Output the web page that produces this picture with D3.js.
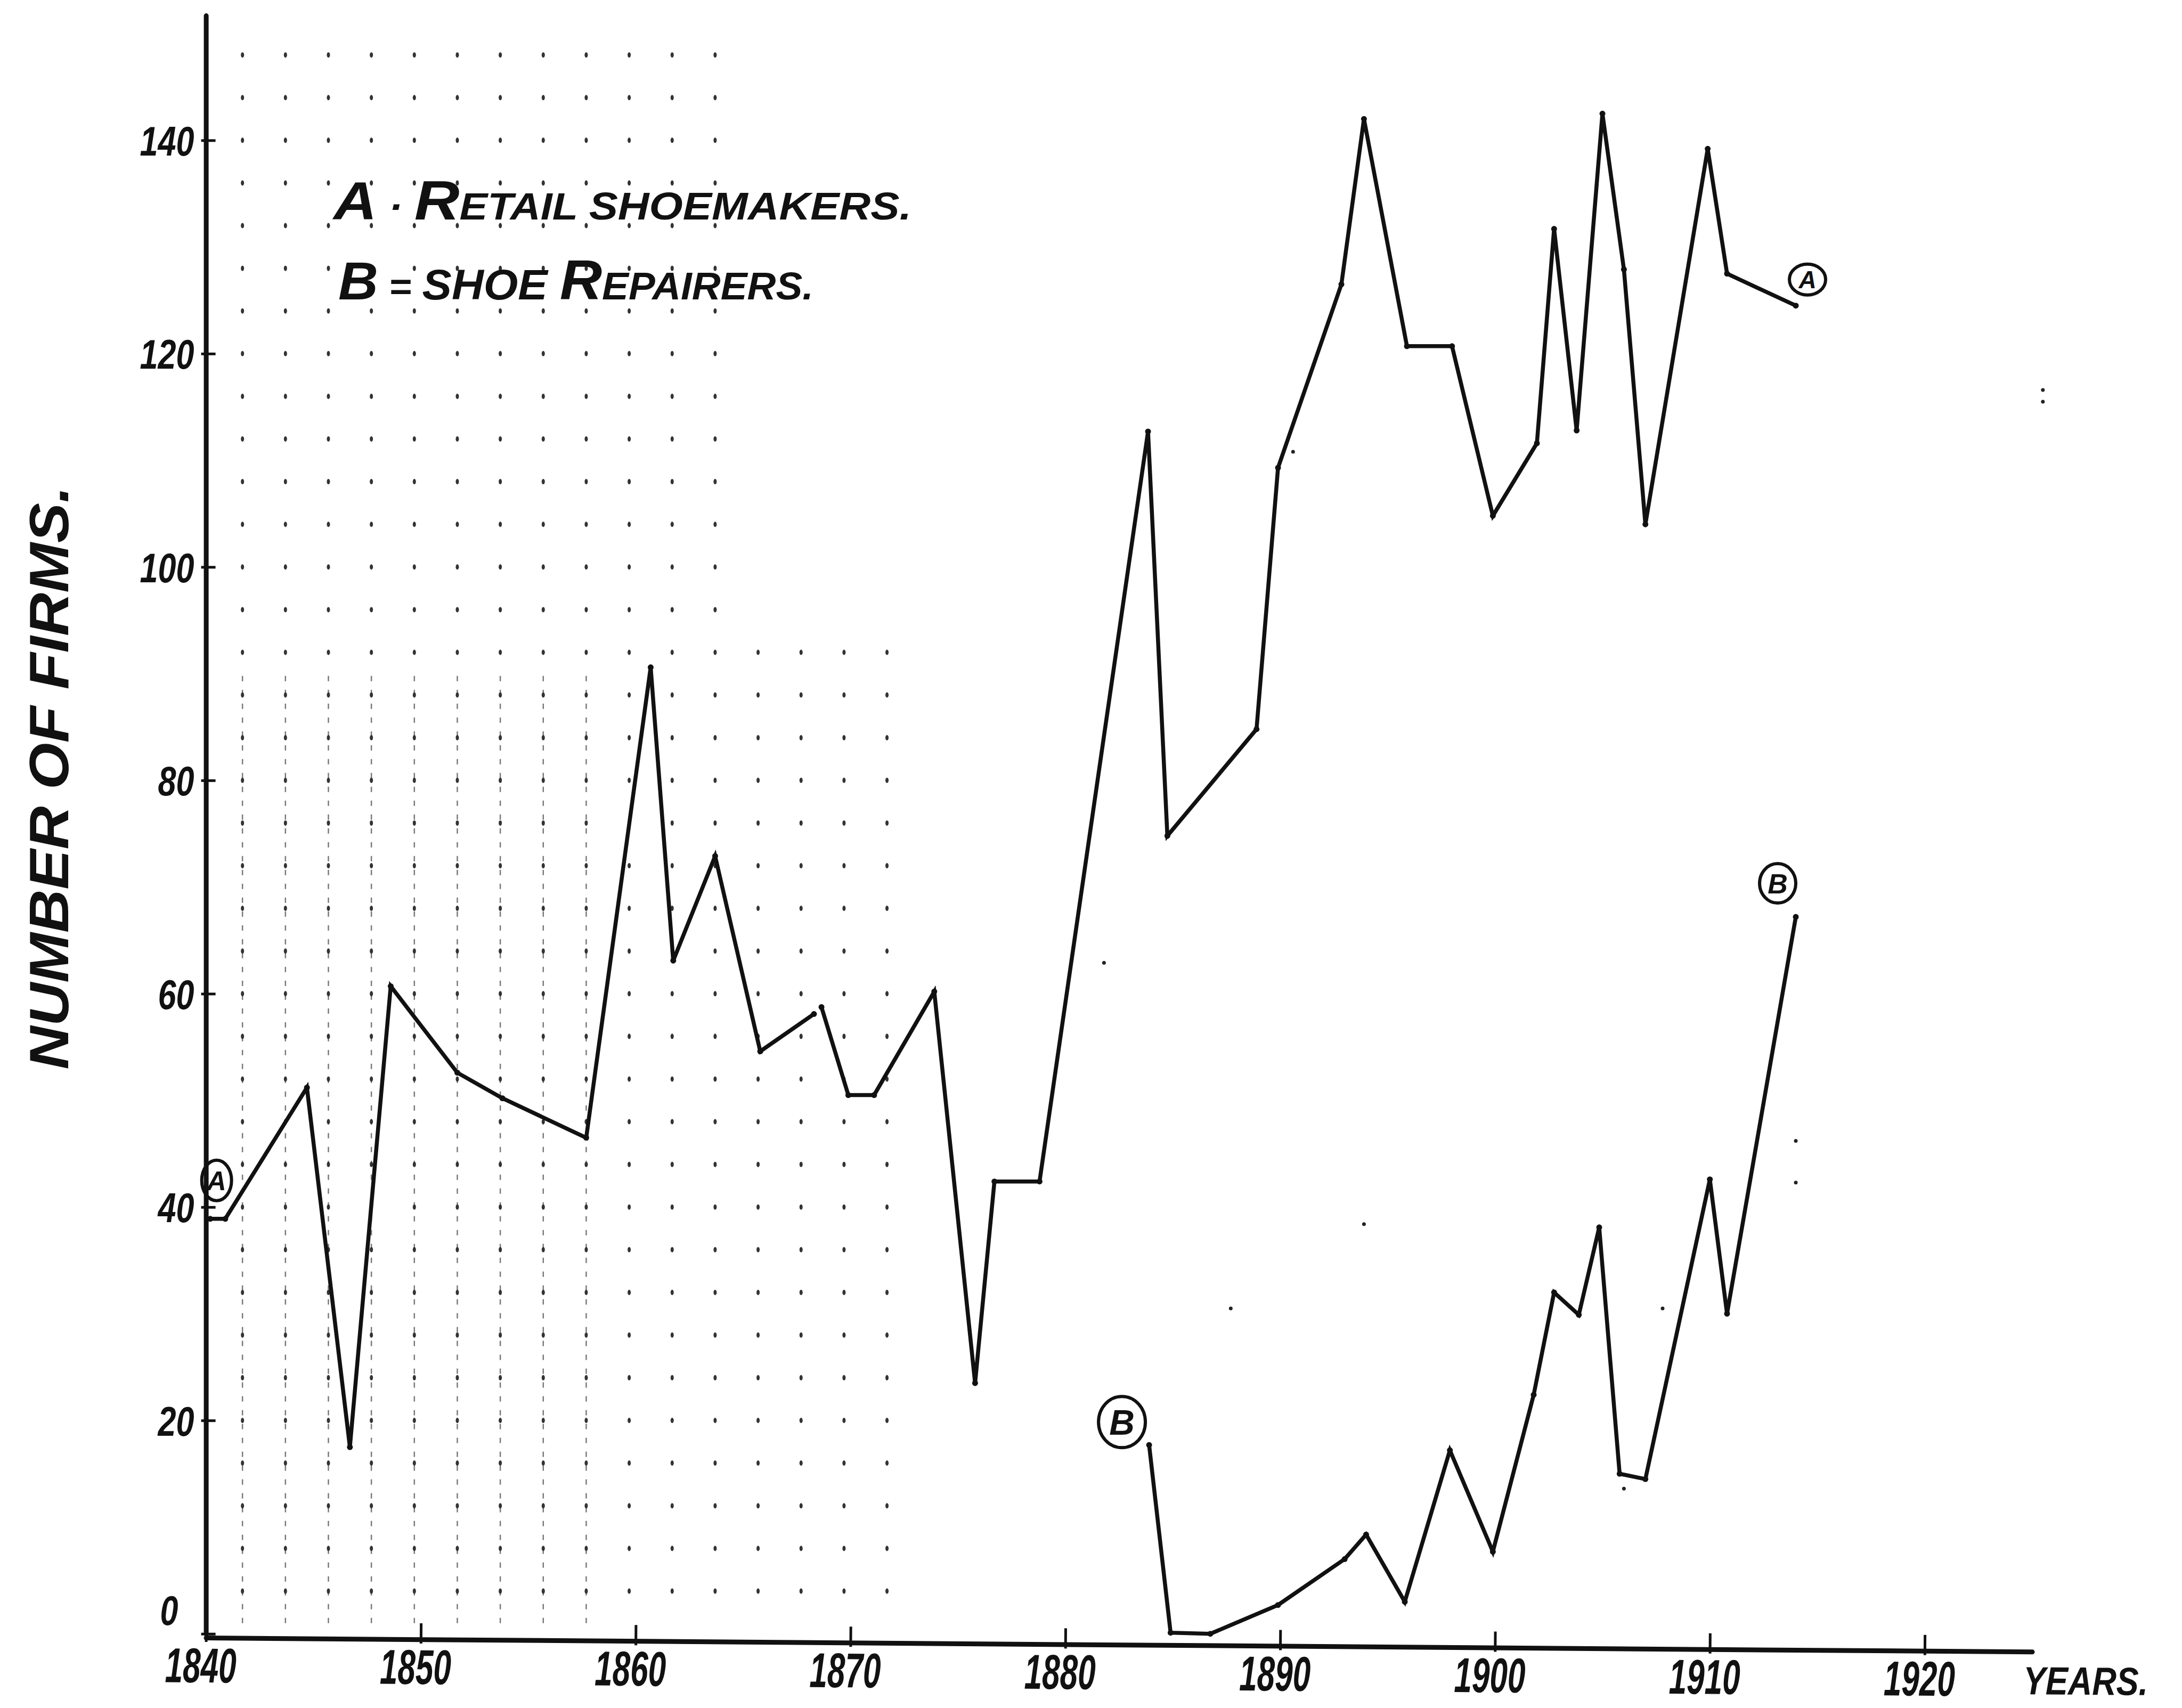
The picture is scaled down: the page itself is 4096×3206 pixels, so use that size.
<!DOCTYPE html>
<html>
<head>
<meta charset="utf-8">
<script src="https://cdn.jsdelivr.net/npm/d3@7"></script>
<style>
  html, body { margin: 0; padding: 0; background: #fff; }
  svg { display: block; background: #fff; }
  .hand { font-family: "Liberation Sans", "DejaVu Sans", sans-serif; font-style: italic; font-weight: bold; fill: #111; }
</style>
</head>
<body>
<svg id="chart" width="4096" height="3206"></svg>
<script>
/* Hand-drawn chart: retail shoemakers (A) vs shoe repairers (B), 1840-1914.
   Values are read off the scanned drawing, so years are not whole numbers. */

// ---- A: retail shoemakers (null = the pen lifted) ----
const retailYears  = [1840.2, 1840.9, 1844.7, 1846.7, 1848.6, 1851.7, 1853.8, 1857.7, 1860.7, 1861.75,
                      1863.7, 1865.8, 1868.3, 1868.5, 1868.65, 1869.9, 1871.1, 1873.9, 1875.8, 1876.7,
                      1878.8, 1883.85, 1884.75, 1888.9, 1889.9, 1892.85, 1893.9, 1895.9, 1898.0, 1899.9,
                      1901.95, 1902.75, 1903.8, 1905.0, 1906.0, 1907.0, 1909.9, 1910.8, 1914.0];
const retailValues = [38.9, 38.9, 51.2, 17.5, 60.7, 52.6, 50.2, 46.5, 90.6, 63.1,
                      72.9, 54.6, 58.1, null, 58.75, 50.5, 50.5, 60.2, 23.5, 42.4,
                      42.4, 112.7, 74.8, 84.8, 109.3, 126.5, 142.0, 120.7, 120.7, 104.8,
                      111.6, 131.7, 112.8, 142.5, 127.9, 104.0, 139.2, 127.5, 124.5];

// ---- B: shoe repairers ----
const repairYears  = [1883.9, 1884.9, 1886.75, 1889.9, 1893.0, 1894.0, 1895.8, 1897.9, 1899.9, 1901.8,
                      1902.75, 1903.9, 1904.85, 1905.8, 1907.0, 1910.0, 1910.8, 1914.0];
const repairValues = [17.7, 0.1, 0.0, 2.7, 7.0, 9.3, 3.0, 17.2, 7.7, 22.4,
                      32.0, 29.9, 38.1, 15.0, 14.5, 42.6, 30.0, 67.2];

// ---- axes ----
const yearTicks = [1840, 1850, 1860, 1870, 1880, 1890, 1900, 1910, 1920];
const firmTicks = [0, 20, 40, 60, 80, 100, 120, 140];

// ---- graph-paper dots showing through on the left ----
const paperYears  = d3.range(1841.7, 1872, 2);
const paperValues = d3.range(4, 149, 4);
// stray specks of the scan [year, value]
const specks = [[1890.6, 110.8], [1893.9, 38.4], [1887.7, 30.5], [1907.8, 30.5], [1914.0, 46.2],
                [1914.0, 42.3], [1906.0, 13.6], [1925.5, 116.6], [1925.5, 115.5], [1881.8, 62.9]];

const svg = d3.select("#chart");

const x = d3.scaleLinear().domain([1840, 1925]).range([386.6, 386.6 + 85 * 40.33]);
const y = d3.scaleLinear().domain([0, 151.7]).range([3066.7, 3066.7 - 151.7 * 20.024]);

/* ---------- paper grid ---------- */
const paper = svg.append("g").attr("class", "paper");
paperYears.slice(0, 9).forEach(yr => {
  paper.append("line")
    .attr("x1", x(yr)).attr("x2", x(yr))
    .attr("y1", y(1)).attr("y2", y(90))
    .attr("stroke", "#7a7a7a").attr("stroke-width", 2.5)
    .attr("stroke-dasharray", "10 16");
});
const paperDots = [];
paperYears.forEach(yr => paperValues.forEach(v => {
  if (yr > 1864 && v > 92) return;
  paperDots.push([yr, v]);
}));
paper.selectAll("ellipse.pd").data(paperDots).join("ellipse")
  .attr("class", "pd")
  .attr("cx", d => x(d[0])).attr("cy", d => y(d[1]))
  .attr("rx", 3).attr("ry", 5).attr("fill", "#333");
paper.selectAll("circle.sp").data(specks).join("circle")
  .attr("class", "sp")
  .attr("cx", d => x(d[0])).attr("cy", d => y(d[1]))
  .attr("r", 3.5).attr("fill", "#222");

/* ---------- circled series tags (drawn before the axis, the axis covers part of one) ---------- */
const retail = retailYears.map((yr, i) => ({ year: yr, value: retailValues[i] }));
const repair = repairYears.map((yr, i) => ({ year: yr, value: repairValues[i] }));
const lastOf = arr => arr[arr.length - 1];

const tags = [
  { letter: "A", at: retail[0],      dx: 12,  dy: -72, rx: 28, ry: 38, size: 50 },
  { letter: "A", at: lastOf(retail), dx: 22,  dy: -49, rx: 34, ry: 29, size: 46 },
  { letter: "B", at: repair[0],      dx: -51, dy: -43, rx: 44, ry: 48, size: 66 },
  { letter: "B", at: lastOf(repair), dx: -34, dy: -63, rx: 34, ry: 37, size: 52 }
];
const tagG = svg.append("g").attr("class", "tags");
tags.forEach(t => {
  const cx = x(t.at.year) + t.dx, cy = y(t.at.value) + t.dy;
  tagG.append("ellipse")
    .attr("cx", cx).attr("cy", cy).attr("rx", t.rx).attr("ry", t.ry)
    .attr("fill", "none").attr("stroke", "#111").attr("stroke-width", 6);
  tagG.append("text").attr("class", "hand")
    .attr("x", cx).attr("y", cy).attr("dy", "0.36em")
    .attr("text-anchor", "middle").attr("font-size", t.size)
    .text(t.letter);
});

/* ---------- axes ---------- */
const yAxisG = svg.append("g")
  .attr("transform", `translate(${x(1840)},0)`)
  .call(d3.axisLeft(y).tickValues(firmTicks).tickSizeInner(0).tickSizeOuter(0).tickPadding(22));
yAxisG.attr("font-family", null).attr("font-size", null);
yAxisG.select(".domain").attr("stroke", "#111").attr("stroke-width", 9).attr("stroke-linecap", "round");
yAxisG.selectAll(".tick line").attr("x1", -9).attr("x2", 18).attr("stroke", "#111").attr("stroke-width", 5);
yAxisG.selectAll(".tick text").attr("class", "hand")
  .attr("font-size", 78).attr("dy", "0.36em")
  .attr("textLength", d => String(d).length * 34).attr("lengthAdjust", "spacingAndGlyphs");
// the nought sits a little higher and further out than the others
yAxisG.selectAll(".tick text").filter(d => d === 0)
  .attr("dx", -30).attr("dy", "-0.22em");

// the hand-ruled year axis sags a little to the right
const x0 = x(1840), axisY = 3074;
const xAxisG = svg.append("g")
  .attr("transform", `translate(${x0},${axisY}) rotate(0.44) translate(${-x0},0)`)
  .call(d3.axisBottom(x).tickValues(yearTicks).tickSizeInner(-30).tickSizeOuter(0).tickFormat(d3.format("d")));
xAxisG.attr("font-family", null).attr("font-size", null);
xAxisG.select(".domain").attr("stroke", "#111").attr("stroke-width", 9).attr("stroke-linecap", "round");
xAxisG.selectAll(".tick line").attr("y1", 8).attr("y2", -30).attr("stroke", "#111").attr("stroke-width", 5);
xAxisG.selectAll(".tick text").attr("class", "hand")
  .attr("font-size", 92).attr("y", 84).attr("dy", 0).attr("dx", -10)
  .attr("textLength", 134).attr("lengthAdjust", "spacingAndGlyphs");

xAxisG.append("text").attr("class", "hand")
  .attr("text-anchor", "start")
  .attr("x", x(1925) - 16).attr("y", 80).attr("font-size", 74)
  .attr("textLength", 234).attr("lengthAdjust", "spacingAndGlyphs")
  .text("YEARS.");

/* ---------- series lines ---------- */
const line = d3.line()
  .defined(d => d.value != null)
  .x(d => x(d.year))
  .y(d => y(d.value));

[retail, repair].forEach(series => {
  svg.append("path")
    .datum(series)
    .attr("d", line)
    .attr("fill", "none")
    .attr("stroke", "#111")
    .attr("stroke-width", 7.5)
    .attr("stroke-linejoin", "miter")
    .attr("stroke-linecap", "round");
  svg.append("g").selectAll("circle")
    .data(series.filter(d => d.value != null))
    .join("circle")
    .attr("cx", d => x(d.year)).attr("cy", d => y(d.value))
    .attr("r", 5.5).attr("fill", "#111");
});

/* ---------- legend and axis title ---------- */
const legend = [
  { parts: [["A", 100], [" \u00b7 ", 70], ["R", 104], ["ETAIL ", 70], ["SHOEMAKERS.", 72]],
    x: 626, y: 412, len: 1085 },
  { parts: [["B", 100], [" = ", 70], ["SHOE ", 80], ["R", 106], ["EPAIRERS.", 72]],
    x: 635, y: 562, len: 892 }
];
legend.forEach(l => {
  const t = svg.append("text").attr("class", "hand")
    .attr("x", l.x).attr("y", l.y)
    .attr("textLength", l.len).attr("lengthAdjust", "spacingAndGlyphs");
  l.parts.forEach(p => t.append("tspan").attr("font-size", p[1]).text(p[0]));
});

svg.append("text").attr("class", "hand")
  .attr("transform", "translate(128,1460) rotate(-90)")
  .attr("text-anchor", "middle").attr("font-size", 104)
  .attr("textLength", 1095).attr("lengthAdjust", "spacingAndGlyphs")
  .text("NUMBER OF FIRMS.");
</script>
</body>
</html>
